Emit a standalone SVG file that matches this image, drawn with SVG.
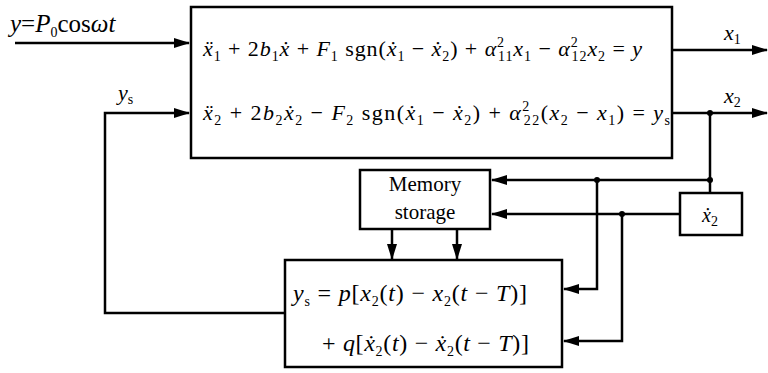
<svg xmlns="http://www.w3.org/2000/svg" width="768" height="373" viewBox="0 0 768 373" font-family="'Liberation Serif', 'DejaVu Serif', serif">
<style>
.box{fill:none;stroke:#000;stroke-width:2.5}
.ln{fill:none;stroke:#000;stroke-width:2.5}
.ar{marker-end:url(#ah)}
.eq{font-size:22px}
.i{font-style:italic}
.s{font-size:14px}
.dot{fill:#000}
</style>
<defs>
<marker id="ah" markerUnits="userSpaceOnUse" markerWidth="16" markerHeight="10" refX="15" refY="5" orient="auto">
<path d="M0,0 L16,5 L0,10 Z" fill="#000"/>
</marker>
</defs>
<rect width="768" height="373" fill="#fff"/>
<g id="connectors">
<path class="ln ar" d="M15,43 H189"/>
<path class="ln ar" d="M285,313 H105 V113 H189"/>
<path class="ln ar" d="M672,50 H767"/>
<path class="ln ar" d="M672,113 H767"/>
<path class="ln" d="M710,113 V193"/>
<path class="ln ar" d="M710,180 H492"/>
<path class="ln ar" d="M680,214 H492"/>
<path class="ln ar" d="M597,180 V289 H564"/>
<path class="ln ar" d="M622,214 V341 H564"/>
<path class="ln ar" d="M392,229 V259"/>
<path class="ln ar" d="M457,229 V259"/>
<circle class="dot" cx="710" cy="113" r="3"/>
<circle class="dot" cx="710" cy="180" r="3"/>
<circle class="dot" cx="597" cy="180" r="3"/>
<circle class="dot" cx="622" cy="214" r="3"/>
<text x="10" y="32" font-size="25"><tspan class="i">y</tspan>=<tspan class="i">P</tspan><tspan class="s" dy="5">0</tspan><tspan dy="-5">cos</tspan><tspan class="i">ωt</tspan></text>
<text x="118" y="100" font-size="22"><tspan class="i">y</tspan><tspan class="s" dy="4">s</tspan></text>
<text x="724" y="40" font-size="22"><tspan class="i">x</tspan><tspan class="s" dy="4">1</tspan></text>
<text x="724" y="103" font-size="22"><tspan class="i">x</tspan><tspan class="s" dy="4">2</tspan></text>
</g>
<g id="system">
<rect class="box" x="191" y="7" width="481" height="151"/>
<text class="eq" x="203" y="56" textLength="439"><tspan class="i">ẍ</tspan><tspan class="s" dy="5">1</tspan><tspan dy="-5"> + 2</tspan><tspan class="i">b</tspan><tspan class="s" dy="5">1</tspan><tspan class="i" dy="-5">ẋ</tspan><tspan> + </tspan><tspan class="i">F</tspan><tspan class="s" dy="5">1</tspan><tspan dy="-5"> sgn(</tspan><tspan class="i">ẋ</tspan><tspan class="s" dy="5">1</tspan><tspan dy="-5"> − </tspan><tspan class="i">ẋ</tspan><tspan class="s" dy="5">2</tspan><tspan dy="-5">) + </tspan><tspan class="i">α</tspan><tspan class="s" dy="-9">2</tspan><tspan class="s" dx="-7" dy="14">11</tspan><tspan class="i" dy="-5">x</tspan><tspan class="s" dy="5">1</tspan><tspan dy="-5"> − </tspan><tspan class="i">α</tspan><tspan class="s" dy="-9">2</tspan><tspan class="s" dx="-7" dy="14">12</tspan><tspan class="i" dy="-5">x</tspan><tspan class="s" dy="5">2</tspan><tspan dy="-5"> = </tspan><tspan class="i">y</tspan></text>
<text class="eq" x="203" y="120" textLength="467"><tspan class="i">ẍ</tspan><tspan class="s" dy="5">2</tspan><tspan dy="-5"> + 2</tspan><tspan class="i">b</tspan><tspan class="s" dy="5">2</tspan><tspan class="i" dy="-5">ẋ</tspan><tspan class="s" dy="5">2</tspan><tspan dy="-5"> − </tspan><tspan class="i">F</tspan><tspan class="s" dy="5">2</tspan><tspan dy="-5"> sgn(</tspan><tspan class="i">ẋ</tspan><tspan class="s" dy="5">1</tspan><tspan dy="-5"> − </tspan><tspan class="i">ẋ</tspan><tspan class="s" dy="5">2</tspan><tspan dy="-5">) + </tspan><tspan class="i">α</tspan><tspan class="s" dy="-9">2</tspan><tspan class="s" dx="-7" dy="14">22</tspan><tspan dy="-5">(</tspan><tspan class="i">x</tspan><tspan class="s" dy="5">2</tspan><tspan dy="-5"> − </tspan><tspan class="i">x</tspan><tspan class="s" dy="5">1</tspan><tspan dy="-5">) = </tspan><tspan class="i">y</tspan><tspan class="s" dy="5">s</tspan></text>
</g>
<g id="memory">
<rect class="box" x="360" y="170" width="130" height="59"/>
<text x="425" y="191" font-size="21" text-anchor="middle">Memory</text>
<text x="425" y="219" font-size="21" text-anchor="middle">storage</text>
</g>
<g id="derivative">
<rect class="box" x="680" y="193" width="62" height="42"/>
<text x="702" y="222" font-size="20"><tspan class="i">ẋ</tspan><tspan class="s" dy="4">2</tspan></text>
</g>
<g id="controller">
<rect class="box" x="285" y="260" width="277" height="107"/>
<text x="293" y="301" font-size="24" textLength="234"><tspan class="i">y</tspan><tspan class="s" dy="5">s</tspan><tspan dy="-5"> = </tspan><tspan class="i">p</tspan><tspan>[</tspan><tspan class="i">x</tspan><tspan class="s" dy="5">2</tspan><tspan dy="-5">(</tspan><tspan class="i">t</tspan><tspan>) − </tspan><tspan class="i">x</tspan><tspan class="s" dy="5">2</tspan><tspan dy="-5">(</tspan><tspan class="i">t</tspan><tspan> − </tspan><tspan class="i">T</tspan><tspan>)]</tspan></text>
<text x="322" y="351" font-size="24" textLength="207"><tspan>+ </tspan><tspan class="i">q</tspan><tspan>[</tspan><tspan class="i">ẋ</tspan><tspan class="s" dy="5">2</tspan><tspan dy="-5">(</tspan><tspan class="i">t</tspan><tspan>) − </tspan><tspan class="i">ẋ</tspan><tspan class="s" dy="5">2</tspan><tspan dy="-5">(</tspan><tspan class="i">t</tspan><tspan> − </tspan><tspan class="i">T</tspan><tspan>)]</tspan></text>
</g>
</svg>
